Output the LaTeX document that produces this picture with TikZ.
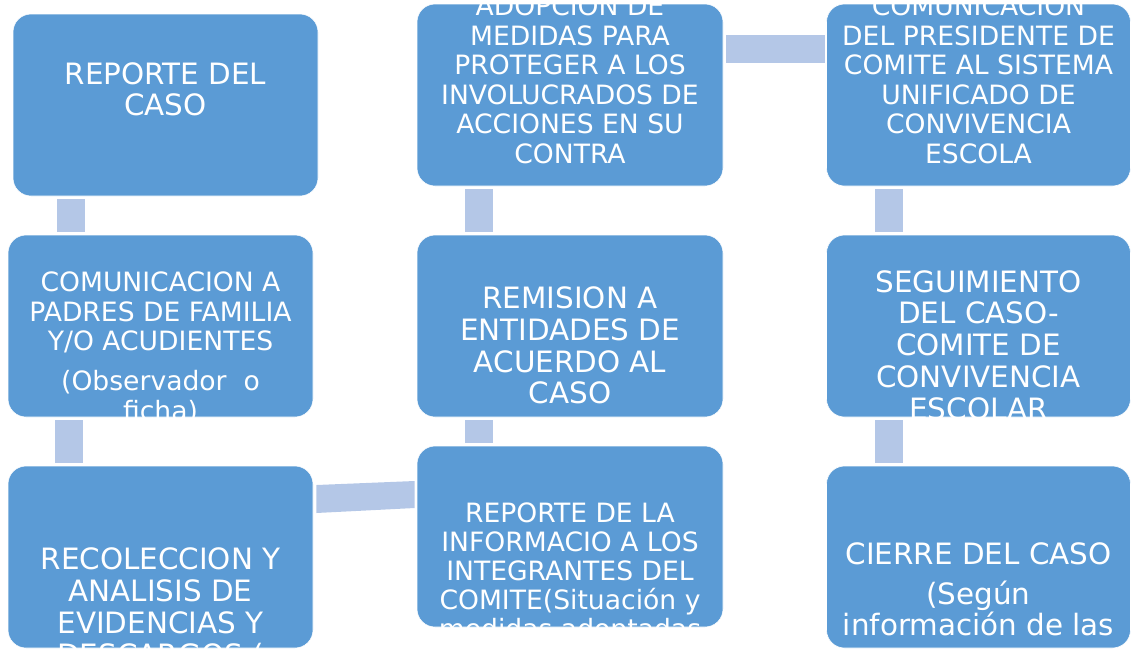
\documentclass[tikz,border=0pt]{standalone}
\usepackage{fontspec}
\setmainfont{DejaVu Sans}
\usetikzlibrary{calc}
\definecolor{boxblue}{HTML}{5B9BD5}
\definecolor{connblue}{HTML}{B4C7E7}
\begin{document}
\begin{tikzpicture}[x=1pt,y=-1pt,
  stagebox/.style={rectangle, rounded corners=18pt, fill=boxblue, draw=white, line width=0.6pt, inner sep=0pt, minimum width=305pt, minimum height=182pt},
  barconn/.style={draw=connblue, line width=28pt},
  slantconn/.style={fill=connblue},
  txtbig/.style={anchor=base, inner sep=0pt, text=white, font=\fontsize{29.4}{32}\selectfont},
  txtsmall/.style={anchor=base, inner sep=0pt, text=white, font=\fontsize{26.6}{29}\selectfont},
]
\useasboundingbox (0,0) rectangle (1131,649);

% boxes
\node[stagebox] (A) at (165.5,105) {};
\node[stagebox] (B) at (160.5,326) {};
\node[stagebox] (C) at (160.5,557) {};
\node[stagebox, minimum width=306pt] (D) at (570,95) {};
\node[stagebox, minimum width=306pt] (E) at (570,326) {};
\node[stagebox, minimum width=306pt, minimum height=181pt] (F) at (570,536.5) {};
\node[stagebox, minimum width=304pt] (G) at (978.5,95) {};
\node[stagebox, minimum width=304pt] (H) at (978.5,326) {};
\node[stagebox, minimum width=304pt] (I) at (978.5,557) {};

% texts, clipped to their boxes
\begin{scope}
\clip[rounded corners=18pt] (A.north west) rectangle (A.south east);
\node[txtbig] (a1) at (165.5,84) {REPORTE DEL};
\node[txtbig] (a2) at (165.5,115.7) {CASO};
\end{scope}

\begin{scope}
\clip[rounded corners=18pt] (B.north west) rectangle (B.south east);
\node[txtsmall] (b1) at (160.5,291) {COMUNICACION A};
\node[txtsmall] (b2) at (160.5,321) {PADRES DE FAMILIA};
\node[txtsmall] (b3) at (160.5,350) {Y/O ACUDIENTES};
\node[txtsmall] (b4) at (160.5,390) {(Observador~~o};
\node[txtsmall] (b5) at (160.5,420) {ficha)};
\end{scope}

\begin{scope}
\clip[rounded corners=18pt] (C.north west) rectangle (C.south east);
\node[txtbig] (c1) at (160.5,569) {RECOLECCION Y};
\node[txtbig] (c2) at (160.5,601) {ANALISIS DE};
\node[txtbig] (c3) at (160.5,633) {EVIDENCIAS Y};
\node[txtbig] (c4) at (160.5,665) {DESCARGOS (};
\end{scope}

\begin{scope}
\clip[rounded corners=18pt] (D.north west) rectangle (D.south east);
\node[txtsmall] (d1) at (570,15.5) {ADOPCION DE};
\node[txtsmall] (d2) at (570,45) {MEDIDAS PARA};
\node[txtsmall] (d3) at (570,74.5) {PROTEGER A LOS};
\node[txtsmall] (d4) at (570,104) {INVOLUCRADOS DE};
\node[txtsmall] (d5) at (570,133.5) {ACCIONES EN SU};
\node[txtsmall] (d6) at (570,163) {CONTRA};
\end{scope}

\begin{scope}
\clip[rounded corners=18pt] (E.north west) rectangle (E.south east);
\node[txtbig] (e1) at (570,308) {REMISION A};
\node[txtbig] (e2) at (570,340) {ENTIDADES DE};
\node[txtbig] (e3) at (570,372) {ACUERDO AL};
\node[txtbig] (e4) at (570,403) {CASO};
\end{scope}

\begin{scope}
\clip[rounded corners=18pt] (F.north west) rectangle (F.south east);
\node[txtsmall] (f1) at (570,522) {REPORTE DE LA};
\node[txtsmall] (f2) at (570,551) {INFORMACIO A LOS};
\node[txtsmall] (f3) at (570,580) {INTEGRANTES DEL};
\node[txtsmall] (f4) at (570,609) {COMITE(Situación y};
\node[txtsmall] (f5) at (570,638) {medidas adoptadas};
\end{scope}

\begin{scope}
\clip[rounded corners=18pt] (G.north west) rectangle (G.south east);
\node[txtsmall] (g1) at (978.5,15.5) {COMUNICACION};
\node[txtsmall] (g2) at (978.5,45) {DEL PRESIDENTE DE};
\node[txtsmall] (g3) at (978.5,74.5) {COMITE AL SISTEMA};
\node[txtsmall] (g4) at (978.5,104) {UNIFICADO DE};
\node[txtsmall] (g5) at (978.5,133.5) {CONVIVENCIA};
\node[txtsmall] (g6) at (978.5,163) {ESCOLA};
\end{scope}

\begin{scope}
\clip[rounded corners=18pt] (H.north west) rectangle (H.south east);
\node[txtbig] (h1) at (978.5,292) {SEGUIMIENTO};
\node[txtbig] (h2) at (978.5,323.5) {DEL CASO-};
\node[txtbig] (h3) at (978.5,355) {COMITE DE};
\node[txtbig] (h4) at (978.5,387) {CONVIVENCIA};
\node[txtbig] (h5) at (978.5,419) {ESCOLAR};
\end{scope}

\begin{scope}
\clip[rounded corners=18pt] (I.north west) rectangle (I.south east);
\node[txtbig] (i1) at (978.5,564) {CIERRE DEL CASO};
\node[txtbig] (i2) at (978.5,604) {(Según};
\node[txtbig] (i3) at (978.5,635) {información de las};
\end{scope}

% connector columns / rows
\coordinate (colA) at (71,0);
\coordinate (colB) at (69,0);
\coordinate (colE) at (479,0);
\coordinate (colH) at (889,0);
\coordinate (rowD) at (0,49);

\draw[barconn] ($(A.south -| colA)+(0,3)$) -- ($(B.north -| colA)+(0,-3)$);
\draw[barconn] ($(B.south -| colB)+(0,3)$) -- ($(C.north -| colB)+(0,-3)$);
\fill[slantconn] ($(C.east)+(3,-72)$) -- ($(F.west)+(-2,-55.5)$) -- ($(F.west)+(-2,-28.5)$) -- ($(C.east)+(3,-44)$) -- cycle;
\draw[barconn] ($(F.north -| colE)+(0,-3)$) -- ($(E.south -| colE)+(0,3)$);
\draw[barconn] ($(E.north -| colE)+(0,-3)$) -- ($(D.south -| colE)+(0,3)$);
\draw[barconn] ($(D.east |- rowD)+(3,0)$) -- ($(G.west |- rowD)+(-1.5,0)$);
\draw[barconn] ($(G.south -| colH)+(0,3)$) -- ($(H.north -| colH)+(0,-3)$);
\draw[barconn] ($(H.south -| colH)+(0,3)$) -- ($(I.north -| colH)+(0,-3)$);
\end{tikzpicture}
\end{document}
